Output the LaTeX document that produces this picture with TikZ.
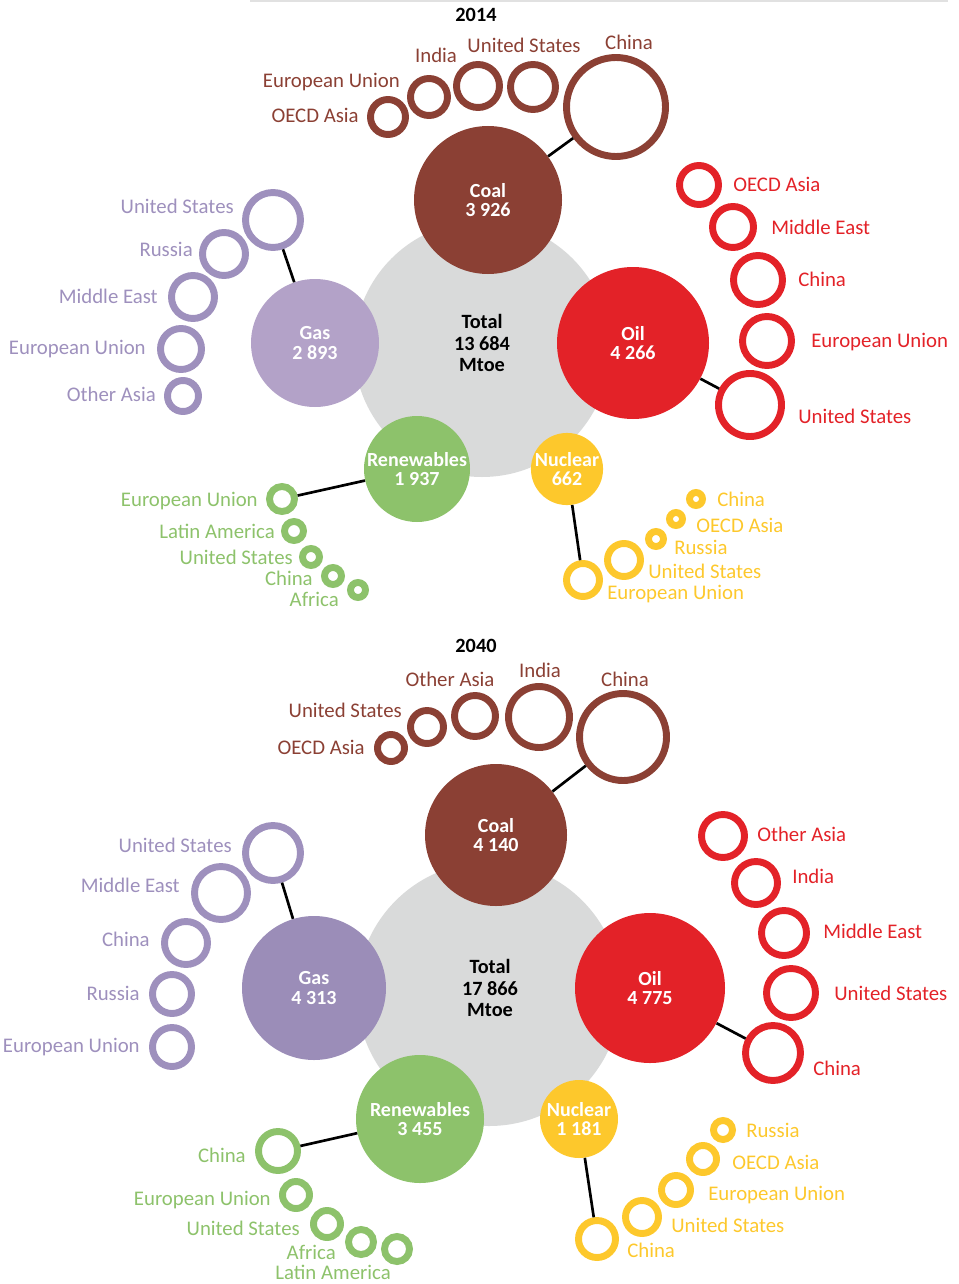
\documentclass[tikz,border=0pt]{standalone}
\usepackage{fontspec}
\setmainfont{Carlito}
\definecolor{coalc}{RGB}{139,64,52}
\definecolor{oilc}{RGB}{227,34,40}
\definecolor{gasA}{RGB}{179,162,200}
\definecolor{gasB}{RGB}{155,141,184}
\definecolor{gasr}{RGB}{158,144,189}
\definecolor{renc}{RGB}{141,194,107}
\definecolor{nucc}{RGB}{253,200,44}
\definecolor{totc}{RGB}{217,218,218}
\definecolor{rulec}{RGB}{225,225,225}
\begin{document}
\begin{tikzpicture}[x=0.75pt,y=-0.75pt,
  tot/.style={circle, fill=totc, inner sep=0, minimum size=#1*1.5pt},
  fuel/.style={circle, inner sep=0, minimum size=#1*1.5pt, text=white, align=center,
     font=\bfseries\fontsize{15}{14.4}\selectfont},
  bold/.style={inner sep=0, align=center, font=\bfseries\fontsize{15.2}{15.8}\selectfont},
  rg/.style={circle, line width=5.2pt, inner sep=0, minimum size=(2*#1-7)*0.75pt},
  coalr/.style={rg=#1, draw=coalc},
  oilr/.style={rg=#1, draw=oilc},
  gasrr/.style={rg=#1, draw=gasr},
  renr/.style={rg=#1, draw=renc},
  nucr/.style={rg=#1, draw=nucc},
  lab/.style={inner sep=0, font=\fontsize{15.6}{18}\selectfont, text height=10pt, text depth=0pt},
  coall/.style={lab, text=coalc},
  oill/.style={lab, text=oilc},
  gasl/.style={lab, text=gasr},
  renl/.style={lab, text=renc},
  nucl/.style={lab, text=nucc},
  conn/.style={line width=2pt, black}]
\useasboundingbox (0,0) rectangle (958,1284);
\coordinate (ruleL) at (250,1);
\coordinate (ruleR) at (948,1);
\draw[rulec, line width=1pt] (ruleL) -- (ruleR);

%% ================= 2014 =================
\node[bold] (t14) at (476,15) {2014};
\node[tot=128] (tot14) at (482,349) {};
\node[fuel=74, fill=coalc] (coal14) at (488,200) {Coal\\3 926};
\node[fuel=76, fill=oilc] (oil14) at (633,343) {Oil\\4 266};
\node[fuel=64, fill=gasA] (gas14) at (315,343) {Gas\\2 893};
\node[fuel=53, fill=renc] (ren14) at (417,469) {Renewables\\1 937};
\node[fuel=32, fill=nucc] (nuc14) at (567,469) {Nuclear\\662};
\node[bold] (tot14t) at (482,343) {Total\\13 684\\Mtoe};

% coal rings
\node[coalr=21] (c14a) at (388,117) {};
\node[coalr=22] (c14b) at (429,97) {};
\node[coalr=25] (c14c) at (478,86) {};
\node[coalr=26] (c14d) at (533,87) {};
\node[coalr=53] (c14e) at (616,107) {};
\node[coall, anchor=east] at (359,116) {OECD Asia};
\node[coall, anchor=east] at (400,81) {European Union};
\node[coall] at (436,56) {India};
\node[coall] at (524,46) {United States};
\node[coall] at (629,43) {China};
\draw[conn] (coal14) -- (c14e);

% oil rings
\node[oilr=23] (o14a) at (699,185) {};
\node[oilr=24] (o14b) at (733,227) {};
\node[oilr=28] (o14c) at (758,280) {};
\node[oilr=28] (o14d) at (767,341) {};
\node[oilr=35] (o14e) at (750,405) {};
\node[oill, anchor=west] at (733,185) {OECD Asia};
\node[oill, anchor=west] at (771,228) {Middle East};
\node[oill, anchor=west] at (798,280) {China};
\node[oill, anchor=west] at (811,341) {European Union};
\node[oill, anchor=west] at (798,417) {United States};
\draw[conn] (oil14) -- (o14e);

% gas rings
\node[gasrr=31] (g14a) at (273,220) {};
\node[gasrr=25] (g14b) at (224,254) {};
\node[gasrr=25] (g14c) at (193,297) {};
\node[gasrr=24] (g14d) at (181,349) {};
\node[gasrr=19] (g14e) at (183,396) {};
\node[gasl, anchor=east] at (234,207) {United States};
\node[gasl, anchor=east] at (193,250) {Russia};
\node[gasl, anchor=east] at (158,297) {Middle East};
\node[gasl, anchor=east] at (146,348) {European Union};
\node[gasl, anchor=east] at (156,395) {Other Asia};
\draw[conn] (gas14) -- (g14a);

% renewables rings
\node[renr=16] (r14a) at (282,499) {};
\node[renr=13] (r14b) at (294,531) {};
\node[renr=12] (r14c) at (311,557) {};
\node[renr=12] (r14d) at (333,576) {};
\node[renr=11] (r14e) at (358,590) {};
\node[renl, anchor=east] at (258,500) {European Union};
\node[renl, anchor=east] at (275,532) {Latin America};
\node[renl, anchor=east] at (293,558) {United States};
\node[renl, anchor=east] at (313,579) {China};
\node[renl, anchor=east] at (339,600) {Africa};
\draw[conn] (ren14) -- (r14a);

% nuclear rings
\node[nucr=10] (n14a) at (696,499) {};
\node[nucr=10] (n14b) at (676,519) {};
\node[nucr=11] (n14c) at (656,539) {};
\node[nucr=20] (n14d) at (624,560) {};
\node[nucr=20] (n14e) at (583,580) {};
\node[nucl, anchor=west] at (717,500) {China};
\node[nucl, anchor=west] at (696,526) {OECD Asia};
\node[nucl, anchor=west] at (674,548) {Russia};
\node[nucl, anchor=west] at (648,572) {United States};
\node[nucl, anchor=west] at (607,593) {European Union};
\draw[conn] (nuc14) -- (n14e);

%% ================= 2040 =================
\node[bold] (t40) at (476,646) {2040};
\node[tot=132] (tot40) at (489,994) {};
\node[fuel=71, fill=coalc] (coal40) at (496,835) {Coal\\4 140};
\node[fuel=75, fill=oilc] (oil40) at (650,988) {Oil\\4 775};
\node[fuel=72, fill=gasB] (gas40) at (314,988) {Gas\\4 313};
\node[fuel=64, fill=renc] (ren40) at (420,1119) {Renewables\\3 455};
\node[fuel=39, fill=nucc] (nuc40) at (579,1119) {Nuclear\\1 181};
\node[bold] (tot40t) at (490,988) {Total\\17 866\\Mtoe};

% coal rings
\node[coalr=17] (c40a) at (391,748) {};
\node[coalr=20] (c40b) at (427,727) {};
\node[coalr=24] (c40c) at (475,716) {};
\node[coalr=34] (c40d) at (539,717) {};
\node[coalr=47] (c40e) at (623,737) {};
\node[coall, anchor=east] at (365,748) {OECD Asia};
\node[coall, anchor=east] at (402,711) {United States};
\node[coall] at (450,680) {Other Asia};
\node[coall] at (540,671) {India};
\node[coall] at (625,680) {China};
\draw[conn] (coal40) -- (c40e);

% oil rings
\node[oilr=25] (o40a) at (723,836) {};
\node[oilr=25] (o40b) at (756,883) {};
\node[oilr=26] (o40c) at (784,933) {};
\node[oilr=28] (o40d) at (791,993) {};
\node[oilr=31] (o40e) at (773,1053) {};
\node[oill, anchor=west] at (757,835) {Other Asia};
\node[oill, anchor=west] at (792,877) {India};
\node[oill, anchor=west] at (823,932) {Middle East};
\node[oill, anchor=west] at (834,994) {United States};
\node[oill, anchor=west] at (813,1069) {China};
\draw[conn] (oil40) -- (o40e);

% gas rings
\node[gasrr=31] (g40a) at (273,853) {};
\node[gasrr=30] (g40b) at (221,893) {};
\node[gasrr=25] (g40c) at (186,943) {};
\node[gasrr=23] (g40d) at (172,994) {};
\node[gasrr=23] (g40e) at (172,1047) {};
\node[gasl, anchor=east] at (232,846) {United States};
\node[gasl, anchor=east] at (180,886) {Middle East};
\node[gasl, anchor=east] at (150,940) {China};
\node[gasl, anchor=east] at (140,994) {Russia};
\node[gasl, anchor=east] at (140,1046) {European Union};
\draw[conn] (gas40) -- (g40a);

% renewables rings
\node[renr=23] (r40a) at (278,1151) {};
\node[renr=17] (r40b) at (296,1195) {};
\node[renr=17] (r40c) at (327,1224) {};
\node[renr=16] (r40d) at (361,1242) {};
\node[renr=16] (r40e) at (397,1249) {};
\node[renl, anchor=east] at (246,1156) {China};
\node[renl, anchor=east] at (271,1199) {European Union};
\node[renl, anchor=east] at (300,1229) {United States};
\node[renl, anchor=east] at (336,1253) {Africa};
\node[renl, anchor=east] at (391,1273) {Latin America};
\draw[conn] (ren40) -- (r40a);

% nuclear rings
\node[nucr=13] (n40a) at (723,1130) {};
\node[nucr=17] (n40b) at (703,1159) {};
\node[nucr=18] (n40c) at (676,1190) {};
\node[nucr=20] (n40d) at (642,1217) {};
\node[nucr=22] (n40e) at (597,1239) {};
\node[nucl, anchor=west] at (746,1131) {Russia};
\node[nucl, anchor=west] at (732,1163) {OECD Asia};
\node[nucl, anchor=west] at (708,1194) {European Union};
\node[nucl, anchor=west] at (671,1226) {United States};
\node[nucl, anchor=west] at (627,1251) {China};
\draw[conn] (nuc40) -- (n40e);
\end{tikzpicture}
\end{document}
